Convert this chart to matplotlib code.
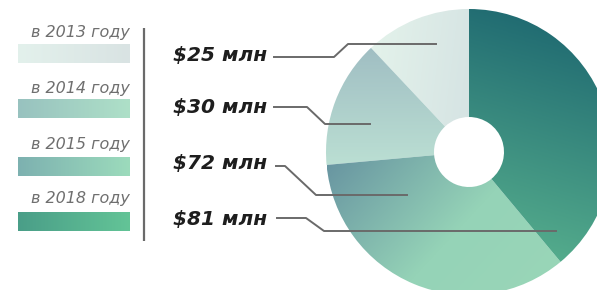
import matplotlib
matplotlib.use("Agg")
import matplotlib.pyplot as plt
from matplotlib.colors import LinearSegmentedColormap
from matplotlib.patches import Rectangle
import numpy as np

# data
years = ["в 2013 году", "в 2014 году", "в 2015 году", "в 2018 году"]
values = [25, 30, 72, 81]
value_labels = ["$25 млн", "$30 млн", "$72 млн", "$81 млн"]

# gradient colours (stops, direction in degrees) for wedges and swatches
wedge_grads = [
    ([(0, "#e4f3eb"), (1, "#d5e3e3")], -10),
    ([(0, "#a0bec3"), (1, "#bbdfd3")], -90),
    ([(0, "#6692a0"), (0.55, "#95d3b7"), (1, "#9ad6b8")], -30),
    ([(0, "#19626e"), (1, "#5ab38f")], -100),
]
swatch_grads = [
    ("#e3f1ec", "#d9e3e3"),
    ("#98c2bf", "#aee0c8"),
    ("#7db1b0", "#9cdbbc"),
    ("#4a9e88", "#63c497"),
]

W, H = 597, 290


def fill_gradient(ax, patch, stops, angle, extent, z=2):
    n = 200
    xx, yy = np.meshgrid(np.linspace(0, 1, n), np.linspace(0, 1, n))
    a = np.deg2rad(angle)
    t = xx * np.cos(a) + yy * np.sin(a)
    t = (t - t.min()) / (t.max() - t.min())
    cmap = LinearSegmentedColormap.from_list("g", stops)
    im = ax.imshow(t, cmap=cmap, extent=extent, origin="lower",
                   aspect="auto", interpolation="bilinear", zorder=z)
    im.set_clip_path(patch)


fig = plt.figure(figsize=(W / 100, H / 100), dpi=100)
ax = fig.add_axes([0, 0, 1, 1])

# donut
cx, cy, r_out, r_in = 469, H - 152, 143, 35
wedges, _ = ax.pie(values, startangle=90, counterclock=True, radius=r_out,
                   center=(cx, cy),
                   wedgeprops=dict(width=r_out - r_in, linewidth=0))
for w, (stops, ang) in zip(wedges, wedge_grads):
    w.set_facecolor("none")
    w.set_edgecolor("none")
    v = w.get_path().vertices
    ext = (v[:, 0].min(), v[:, 0].max(), v[:, 1].min(), v[:, 1].max())
    fill_gradient(ax, w, stops, ang, ext)

# legend on the left
label_y = [33, 88, 144, 198]
swatch_y = [44, 99, 157, 212]
for name, ly, sy, (c1, c2) in zip(years, label_y, swatch_y, swatch_grads):
    ax.text(130, H - ly, name, ha="right", va="center", fontsize=11.5,
            style="italic", color="#6f6f6f", family="DejaVu Sans")
    rect = Rectangle((18, H - sy - 19), 112, 19, facecolor="none",
                     edgecolor="none")
    ax.add_patch(rect)
    fill_gradient(ax, rect, [(0, c1), (1, c2)], 0,
                  (18, 130, H - sy - 19, H - sy))

ax.plot([144, 144], [H - 28, H - 241], color="#6a6a6a", lw=1.6,
        solid_capstyle="butt")

# value labels with leader lines
text_y = [55, 108, 163, 219]
leaders = [
    ([274, 334, 348, 436], [57, 57, 44, 44]),
    ([274, 307, 325, 370], [107, 107, 124, 124]),
    ([276, 285, 316, 407], [166, 166, 195, 195]),
    ([277, 306, 324, 556], [218, 218, 231, 231]),
]
for lab, ty, (lx, ly) in zip(value_labels, text_y, leaders):
    ax.text(267, H - ty, lab, ha="right", va="center", fontsize=14.5,
            weight="bold", style="italic", color="#1e1e1e",
            family="DejaVu Sans")
    ax.plot(lx, [H - y for y in ly], color="#6a6a6a", lw=1.4, zorder=5)

ax.set_xlim(0, W)
ax.set_ylim(0, H)
ax.set_aspect("auto")
ax.axis("off")

fig.savefig("out.png", dpi=100)
